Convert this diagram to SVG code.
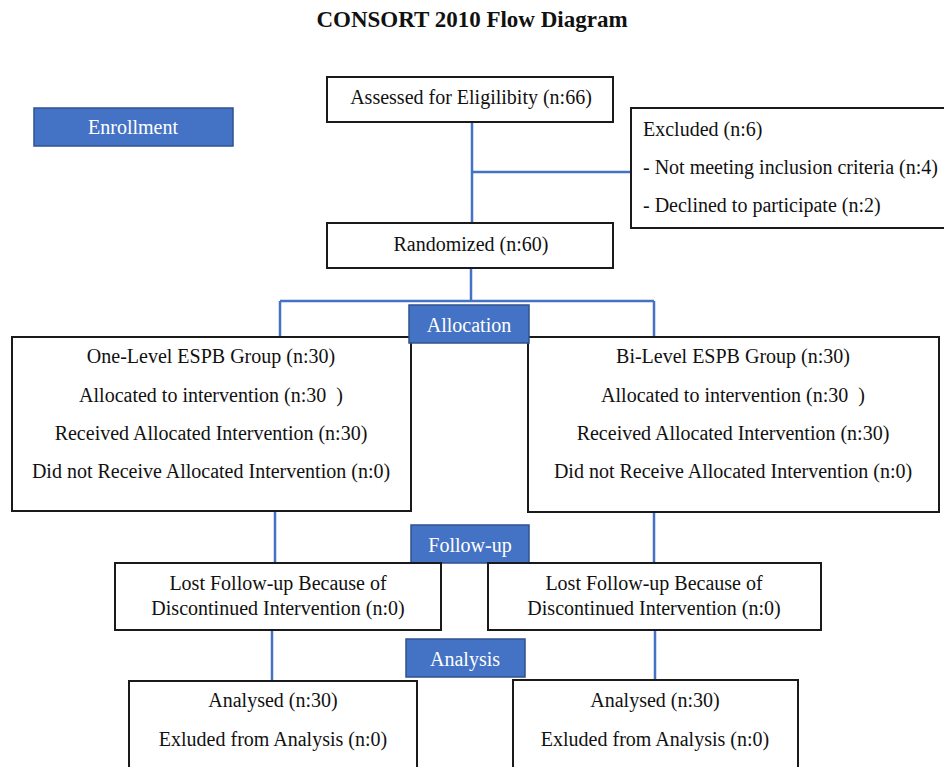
<svg xmlns="http://www.w3.org/2000/svg" width="944" height="767" viewBox="0 0 944 767">
<style>
text{font-family:"Liberation Serif","Times New Roman",serif;font-size:20px;fill:#111}
.box{fill:#fff;stroke:#1a1a1a;stroke-width:2}
.lbl{fill:#4472C4;stroke:#2F528F;stroke-width:1.5}
.lt{fill:#fff;text-anchor:middle}
.c{text-anchor:middle}
.ln{stroke:#4472C4;stroke-width:2.5;fill:none}
.title{font-weight:bold;font-size:23px;text-anchor:middle}
</style>
<rect width="944" height="767" fill="#fff"/>
<text class="title" x="472" y="27">CONSORT 2010 Flow Diagram</text>

<g id="connectors">
<path class="ln" d="M472 122V223M472 172H631"/>
<path class="ln" d="M471 268V301M280 301H654M280 301V337M654 301V337"/>
<path class="ln" d="M275 511V563M654 512V563"/>
<path class="ln" d="M272 630V681M655 630V680"/>
</g>

<g id="enrollment"><rect class="lbl" x="34" y="108" width="199" height="38"/><text class="lt" x="133" y="134">Enrollment</text></g>
<g id="assessed"><rect class="box" x="327" y="77" width="286" height="45"/><text class="c" x="471" y="104">Assessed for Eligilibity (n:66)</text></g>
<g id="excluded"><rect class="box" x="631" y="108" width="330" height="120"/>
<text x="643" y="136">Excluded (n:6)</text>
<text x="643" y="174">- Not meeting inclusion criteria (n:4)</text>
<text x="643" y="212">- Declined to participate (n:2)</text></g>
<g id="randomized"><rect class="box" x="327" y="223" width="286" height="45"/><text class="c" x="471" y="251">Randomized (n:60)</text></g>

<g id="group1"><rect class="box" x="12" y="337" width="399" height="174"/>
<text class="c" x="211" y="363">One-Level ESPB Group (n:30)</text>
<text class="c" x="211" y="402" xml:space="preserve">Allocated to intervention (n:30  )</text>
<text class="c" x="211" y="440">Received Allocated Intervention (n:30)</text>
<text class="c" x="211" y="478">Did not Receive Allocated Intervention (n:0)</text></g>
<g id="group2"><rect class="box" x="528" y="337" width="411" height="175"/>
<text class="c" x="733" y="363">Bi-Level ESPB Group (n:30)</text>
<text class="c" x="733" y="402" xml:space="preserve">Allocated to intervention (n:30  )</text>
<text class="c" x="733" y="440">Received Allocated Intervention (n:30)</text>
<text class="c" x="733" y="478">Did not Receive Allocated Intervention (n:0)</text></g>
<g id="allocation"><rect class="lbl" x="409" y="305" width="120" height="38"/><text class="lt" x="469" y="332">Allocation</text></g>

<g id="followup"><rect class="lbl" x="411" y="525" width="118" height="38"/><text class="lt" x="470" y="552">Follow-up</text></g>
<g id="lost1"><rect class="box" x="115" y="563" width="326" height="67"/>
<text class="c" x="278" y="590">Lost Follow-up Because of</text>
<text class="c" x="278" y="615">Discontinued Intervention (n:0)</text></g>
<g id="lost2"><rect class="box" x="488" y="563" width="333" height="67"/>
<text class="c" x="654" y="590">Lost Follow-up Because of</text>
<text class="c" x="654" y="615">Discontinued Intervention (n:0)</text></g>

<g id="analysis"><rect class="lbl" x="406" y="639" width="119" height="38"/><text class="lt" x="465" y="666">Analysis</text></g>
<g id="analysed1"><rect class="box" x="129" y="681" width="288" height="100"/>
<text class="c" x="273" y="707">Analysed (n:30)</text>
<text class="c" x="273" y="746">Exluded from Analysis (n:0)</text></g>
<g id="analysed2"><rect class="box" x="513" y="680" width="285" height="100"/>
<text class="c" x="655" y="707">Analysed (n:30)</text>
<text class="c" x="655" y="746">Exluded from Analysis (n:0)</text></g>
</svg>
